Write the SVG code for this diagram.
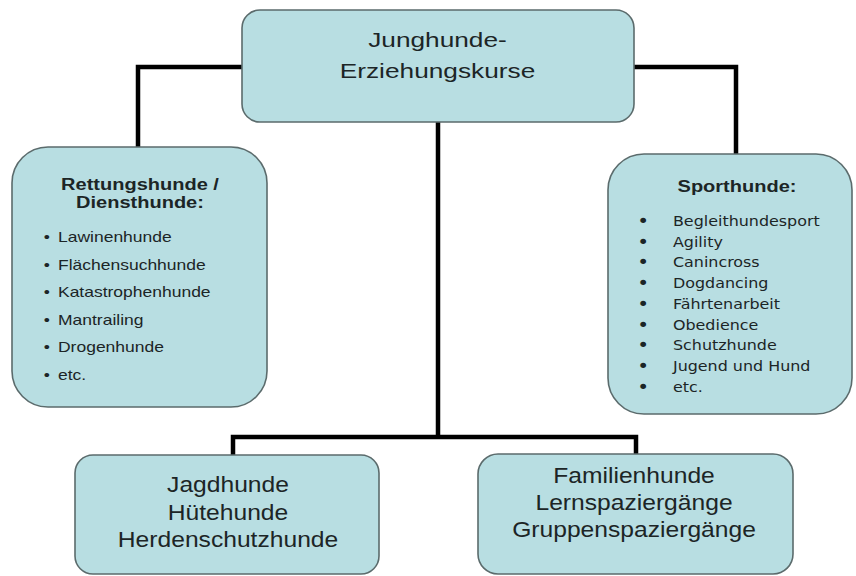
<svg xmlns="http://www.w3.org/2000/svg" width="856" height="576" viewBox="0 0 856 576">
<style>
.box{fill:#b8dee2;stroke:#5b6b6c;stroke-width:1.6}
.conn{fill:none;stroke:#000;stroke-width:4.5;stroke-linejoin:miter}
.t{font-family:"Liberation Sans",Arial,sans-serif;fill:#1c2526}
.c{text-anchor:middle}
.b{font-weight:bold}
.big{font-size:21px}
.mid{font-size:22px}
.hd{font-size:16px}
.li{font-size:14px}
.sp{font-family:"DejaVu Sans",Verdana,sans-serif;font-size:13.5px;fill:#1c2526}
.bu{font-size:17px}
</style>
<rect width="856" height="576" fill="#fff"/>
<g id="connectors">
<polyline class="conn" points="242,67 138,67 138,148"/>
<polyline class="conn" points="634,67 736,67 736,154"/>
<line class="conn" x1="438" y1="122" x2="438" y2="437"/>
<polyline class="conn" points="233,455 233,437 636,437 636,454"/>
</g>
<g id="root">
<rect class="box" x="242" y="10" width="392" height="112" rx="18"/>
<g transform="scale(1.25,1)">
<text class="t c big" x="350" y="47">Junghunde-</text>
<text class="t c big" x="350" y="78">Erziehungskurse</text>
</g>
</g>
<g id="rettungshunde">
<rect class="box" x="12" y="147" width="255" height="260" rx="36"/>
<g transform="scale(1.25,1)">
<text class="t c b hd" x="112" y="190">Rettungshunde /</text>
<text class="t c b hd" x="112" y="208">Diensthunde:</text>
<g class="t li">
<text x="35" y="242">•</text><text x="46.4" y="242">Lawinenhunde</text>
<text x="35" y="270">•</text><text x="46.4" y="270">Flächensuchhunde</text>
<text x="35" y="297">•</text><text x="46.4" y="297">Katastrophenhunde</text>
<text x="35" y="325">•</text><text x="46.4" y="325">Mantrailing</text>
<text x="35" y="352">•</text><text x="46.4" y="352">Drogenhunde</text>
<text x="35" y="380">•</text><text x="46.4" y="380">etc.</text>
</g>
</g>
</g>
<g id="sporthunde">
<rect class="box" x="608" y="154" width="244" height="260" rx="36"/>
<g transform="scale(1.25,1)">
<text class="t c b hd" x="589.6" y="192">Sporthunde:</text>
</g>
<g transform="scale(1.18,1)" class="sp">
<g class="bu">
<text x="540" y="227">•</text>
<text x="540" y="247.75">•</text>
<text x="540" y="268.5">•</text>
<text x="540" y="289.25">•</text>
<text x="540" y="310">•</text>
<text x="540" y="330.75">•</text>
<text x="540" y="351.5">•</text>
<text x="540" y="372.25">•</text>
<text x="540" y="393">•</text>
</g>
<text x="570.3" y="226">Begleithundesport</text>
<text x="570.3" y="246.75">Agility</text>
<text x="570.3" y="267.5">Canincross</text>
<text x="570.3" y="288.25">Dogdancing</text>
<text x="570.3" y="309">Fährtenarbeit</text>
<text x="570.3" y="329.75">Obedience</text>
<text x="570.3" y="350.5">Schutzhunde</text>
<text x="570.3" y="371.25">Jugend und Hund</text>
<text x="570.3" y="392">etc.</text>
</g>
</g>
<g id="jagdhunde">
<rect class="box" x="75" y="455" width="304" height="119" rx="18"/>
<g transform="scale(1.12,1)">
<text class="t c mid" x="203.6" y="492">Jagdhunde</text>
<text class="t c mid" x="203.6" y="520">Hütehunde</text>
<text class="t c mid" x="203.6" y="547">Herdenschutzhunde</text>
</g>
</g>
<g id="familienhunde">
<rect class="box" x="478" y="454" width="315" height="120" rx="20"/>
<g transform="scale(1.12,1)">
<text class="t c mid" x="566.1" y="483">Familienhunde</text>
<text class="t c mid" x="566.1" y="510">Lernspaziergänge</text>
<text class="t c mid" x="566.1" y="537">Gruppenspaziergänge</text>
</g>
</g>
</svg>
